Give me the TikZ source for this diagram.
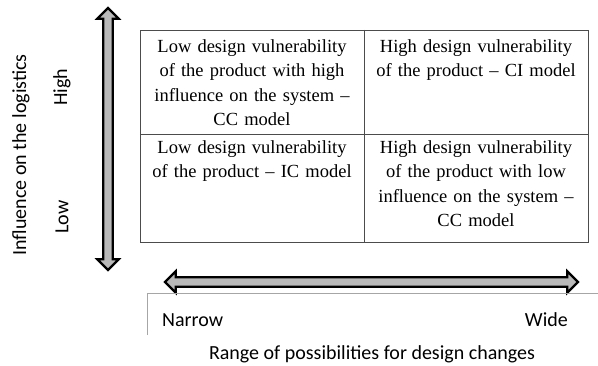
\documentclass[tikz,border=0pt]{standalone}
\usepackage{fontspec}
\setmainfont{Liberation Serif}
\newfontfamily\axisfont{Carlito}
\usetikzlibrary{shapes.arrows}

\tikzset{
  cell/.style={anchor=north, text width=220pt, align=center, inner sep=0pt,
    font=\fontsize{18.5}{24.5}\selectfont},
  axistext/.style={font=\axisfont\fontsize{20}{24}\selectfont, inner sep=0pt},
  axisarrow/.style={shape=double arrow, draw=black, line width=2.2pt,
    fill=gray!55, inner sep=3.6pt, double arrow head extend=6pt,
    minimum width=20pt},
  gridline/.style={draw=gray!60!black, line width=0.8pt},
}

\begin{document}
\begin{tikzpicture}[x=1pt,y=-1pt]
    \useasboundingbox (0,0) rectangle (598,366);

    \path (140,30) coordinate (nw) (588,242) coordinate (se);
    \path (364,30) coordinate (mt) (364,242) coordinate (mb);
    \path (140,134) coordinate (ml) (588,134) coordinate (mr);
    \draw [gridline] (nw) rectangle (se);
    \draw [gridline] (mt) -- (mb);
    \draw [gridline] (ml) -- (mr);

    \path (252,39) node [cell] (cc) {Low design vulnerability\\
	of the product with high\\ influence on the system --\\ CC model};
    \path (476,39) node [cell] (ci) {High design vulnerability\\
	of the product -- CI model};
    \path (252,140) node [cell] (ic) {Low design vulnerability\\
	of the product -- IC model};
    \path (476,140) node [cell] (lc) {High design vulnerability\\
	of the product with low\\ influence on the system --\\ CC model};

    \path (108,139) node [axisarrow, rotate=90, minimum height=262pt] (infl) {};
    \path (21,155) node [axistext, rotate=90] (ilab) {Influence on the logistics};
    \path (62,87) node [axistext, rotate=90] (hi) {High};
    \path (62,217) node [axistext, rotate=90] (lo) {Low};

    \path (371.5,282) node [axisarrow, minimum height=413pt] (rng) {};
    \path (147,335) coordinate (bl) (147,293) coordinate (tl)
	(598,293) coordinate (tr);
    \draw [draw=gray!70, line width=0.8pt] (bl) -- (tl) -- (tr);
    \path (162,320) node [axistext, anchor=west] (nar) {Narrow};
    \path (568,320) node [axistext, anchor=east] (wid) {Wide};
    \path (372,354) node [axistext] (rlab)
	{Range of possibilities for design changes};
\end{tikzpicture}
\end{document}
